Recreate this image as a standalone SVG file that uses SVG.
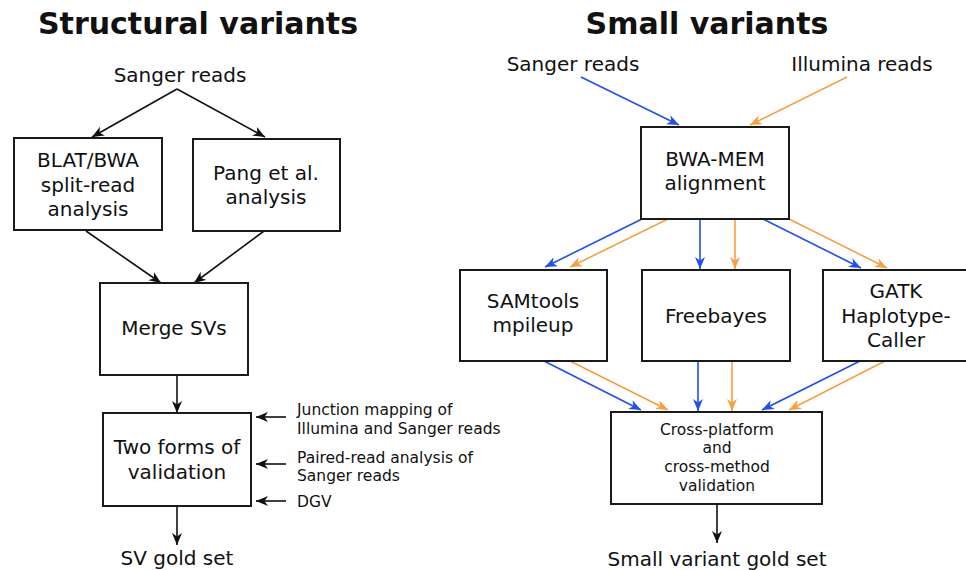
<svg xmlns="http://www.w3.org/2000/svg" width="966" height="570" viewBox="0 0 966 570">
<defs>
<style>
text{font-family:"DejaVu Sans",Verdana,sans-serif;fill:#111;text-anchor:middle}
.t{font-size:30px;font-weight:bold}
.m{font-size:20px}
.s{font-size:15.5px}
.l{text-anchor:start}
.box{fill:#fff;stroke:#1a1a1a;stroke-width:2}
.k{stroke:#111;stroke-width:1.6;fill:none;marker-end:url(#ak)}
.b{stroke:#1f4ff5;stroke-width:1.6;fill:none;marker-end:url(#ab)}
.o{stroke:#f7a040;stroke-width:1.6;fill:none;marker-end:url(#ao)}
</style>
<marker id="ak" markerUnits="userSpaceOnUse" markerWidth="14" markerHeight="12" refX="12" refY="5" orient="auto"><path d="M0,0 L12,5 L0,10 L3.5,5 z" fill="#111"/></marker>
<marker id="ab" markerUnits="userSpaceOnUse" markerWidth="14" markerHeight="12" refX="12" refY="5" orient="auto"><path d="M0,0 L12,5 L0,10 L3.5,5 z" fill="#1f4ff5"/></marker>
<marker id="ao" markerUnits="userSpaceOnUse" markerWidth="14" markerHeight="12" refX="12" refY="5" orient="auto"><path d="M0,0 L12,5 L0,10 L3.5,5 z" fill="#f7a040"/></marker>
</defs>
<rect width="966" height="570" fill="#fff"/>

<g id="title-sv"><text class="t" x="198" y="34">Structural variants</text></g>
<g id="title-small"><text class="t" x="707" y="34">Small variants</text></g>

<g id="connectors">
<path class="k" d="M177,89 L92,137"/>
<path class="k" d="M177,89 L265,137"/>
<path class="k" d="M86,231 L161,283"/>
<path class="k" d="M264,231 L194,283"/>
<path class="k" d="M177,375 L177,413"/>
<path class="k" d="M177,506 L177,545"/>
<path class="k" d="M286,417 L256,417"/>
<path class="k" d="M286,464 L256,464"/>
<path class="k" d="M286,501 L256,501"/>

<path class="b" d="M581,77 L679,125"/>
<path class="o" d="M847,77 L750,125"/>
<path class="b" d="M642,219 L545,267"/>
<path class="o" d="M668,219 L570,267"/>
<path class="b" d="M700,219 L700,269"/>
<path class="o" d="M735,219 L735,269"/>
<path class="b" d="M763,219 L861,268"/>
<path class="o" d="M789,219 L887,268"/>
<path class="b" d="M544,361 L641,410"/>
<path class="o" d="M570,361 L668,410"/>
<path class="b" d="M698,361 L698,411"/>
<path class="o" d="M732,361 L732,411"/>
<path class="b" d="M860,361 L762,410"/>
<path class="o" d="M885,361 L789,410"/>
<path class="k" d="M717,504 L717,543"/>
</g>

<g id="sv-sanger"><text class="m" x="180" y="82">Sanger reads</text></g>
<g id="blat"><rect class="box" x="14" y="138" width="148" height="92"/>
<text class="m" x="88" y="167">BLAT/BWA</text><text class="m" x="88" y="192">split-read</text><text class="m" x="88" y="216">analysis</text></g>
<g id="pang"><rect class="box" x="193" y="139" width="147" height="92"/>
<text class="m" x="266" y="180">Pang et al.</text><text class="m" x="266" y="204">analysis</text></g>
<g id="merge"><rect class="box" x="100" y="283" width="148" height="92"/>
<text class="m" x="174" y="335">Merge SVs</text></g>
<g id="twoforms"><rect class="box" x="103" y="413" width="148" height="93"/>
<text class="m" x="177" y="454">Two forms of</text><text class="m" x="177" y="479">validation</text></g>
<g id="sv-gold"><text class="m" x="177" y="565">SV gold set</text></g>
<g id="junction"><text class="s l" x="297" y="415">Junction mapping of</text><text class="s l" x="297" y="434">Illumina and Sanger reads</text></g>
<g id="paired"><text class="s l" x="297" y="463">Paired-read analysis of</text><text class="s l" x="297" y="481">Sanger reads</text></g>
<g id="dgv"><text class="s l" x="297" y="507">DGV</text></g>

<g id="sm-sanger"><text class="m" x="573" y="71">Sanger reads</text></g>
<g id="sm-illumina"><text class="m" x="862" y="71">Illumina reads</text></g>
<g id="bwamem"><rect class="box" x="641" y="127" width="148" height="92"/>
<text class="m" x="715" y="166">BWA-MEM</text><text class="m" x="715" y="190">alignment</text></g>
<g id="samtools"><rect class="box" x="460" y="270" width="147" height="91"/>
<text class="m" x="533" y="308">SAMtools</text><text class="m" x="533" y="332">mpileup</text></g>
<g id="freebayes"><rect class="box" x="642" y="270" width="148" height="91"/>
<text class="m" x="716" y="323">Freebayes</text></g>
<g id="gatk"><rect class="box" x="823" y="270" width="148" height="91"/>
<text class="m" x="896" y="298">GATK</text><text class="m" x="896" y="323">Haplotype-</text><text class="m" x="896" y="347">Caller</text></g>
<g id="crossval"><rect class="box" x="611" y="412" width="211" height="92"/>
<text class="s" x="717" y="435">Cross-platform</text><text class="s" x="717" y="453">and</text><text class="s" x="717" y="472">cross-method</text><text class="s" x="717" y="491">validation</text></g>
<g id="sm-gold"><text class="m" x="717" y="566">Small variant gold set</text></g>
</svg>
